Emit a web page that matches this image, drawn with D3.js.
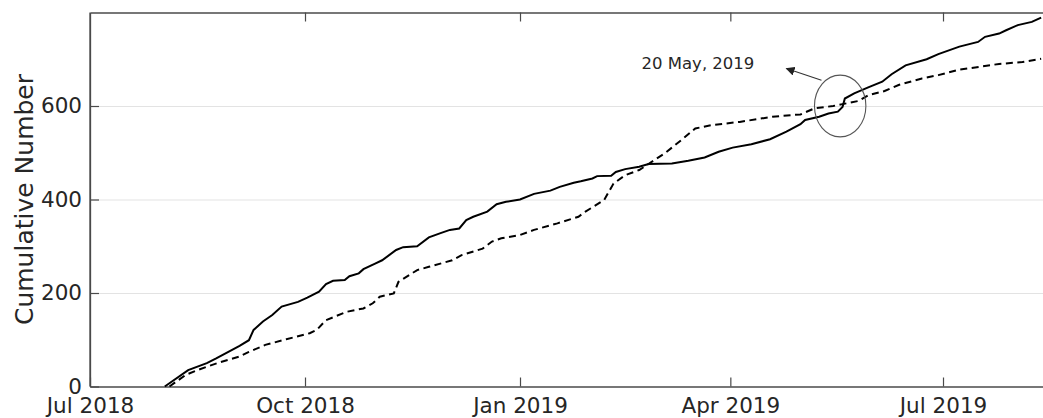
<!DOCTYPE html>
<html>
<head>
<meta charset="utf-8">
<script src="https://cdn.jsdelivr.net/npm/d3@7"></script>
<style>
  body { margin: 0; background: #fff; }
  text { font-family: "DejaVu Sans", sans-serif; fill: #262626; }
</style>
</head>
<body>
<div id="graphic"></div>
<script>
// x axis ticks and labels
var xTickDates = ["2018-07-01", "2018-10-01", "2019-01-01", "2019-04-01", "2019-07-01"];
var xTickLabels = ["Jul 2018", "Oct 2018", "Jan 2019", "Apr 2019", "Jul 2019"];
var yTickValues = [0, 200, 400, 600];

// solid series
var solidDates = ["2018-08-02","2018-08-12","2018-08-20","2018-08-24","2018-08-28","2018-09-03","2018-09-07","2018-09-09",
  "2018-09-13","2018-09-17","2018-09-21","2018-09-28","2018-10-02","2018-10-07","2018-10-10","2018-10-13","2018-10-18",
  "2018-10-20","2018-10-24","2018-10-26","2018-10-31","2018-11-03","2018-11-09","2018-11-12","2018-11-18","2018-11-23",
  "2018-11-28","2018-12-02","2018-12-06","2018-12-09","2018-12-12","2018-12-18","2018-12-22","2018-12-26","2019-01-01",
  "2019-01-07","2019-01-14","2019-01-18","2019-01-24","2019-01-27","2019-02-01","2019-02-03","2019-02-09","2019-02-11",
  "2019-02-15","2019-02-21","2019-02-25","2019-03-07","2019-03-14","2019-03-21","2019-03-27","2019-04-02","2019-04-10",
  "2019-04-18","2019-04-25","2019-05-01","2019-05-03","2019-05-09","2019-05-13","2019-05-17","2019-05-19","2019-05-20",
  "2019-05-24","2019-05-30","2019-06-05","2019-06-09","2019-06-15","2019-06-24","2019-06-29","2019-07-08","2019-07-16",
  "2019-07-19","2019-07-25","2019-07-28","2019-08-02","2019-08-08","2019-08-12"];
var solidValues = [0,35,50,60,71,87,99,121,
  139,153,171,181,190,203,219,226,228,
  236,242,251,263,270,292,298,300,319,
  328,335,338,356,363,374,390,395,400,
  412,419,427,436,439,445,450,451,459,
  465,470,476,477,483,490,502,511,518,
  529,545,561,570,577,584,588,598,616,
  627,640,652,668,687,700,711,727,737,
  748,755,762,773,780,789];

// dashed series
var dashedDates = ["2018-08-04","2018-08-11","2018-08-17","2018-08-25","2018-09-03","2018-09-07","2018-09-14","2018-09-23",
  "2018-10-03","2018-10-06","2018-10-10","2018-10-19","2018-10-26","2018-10-30","2018-11-02","2018-11-08","2018-11-10",
  "2018-11-18","2018-11-23","2018-12-03","2018-12-07","2018-12-16","2018-12-20","2018-12-24","2019-01-01","2019-01-07",
  "2019-01-17","2019-01-26","2019-01-29","2019-02-06","2019-02-10","2019-02-15","2019-02-21","2019-03-04","2019-03-11",
  "2019-03-17","2019-03-24","2019-04-05","2019-04-19","2019-05-01","2019-05-07","2019-05-15","2019-05-19","2019-05-26",
  "2019-05-30","2019-06-06","2019-06-12","2019-06-22","2019-06-29","2019-07-08","2019-07-17","2019-07-25","2019-08-04",
  "2019-08-12"];
var dashedValues = [0,25,37,51,64,74,89,101,
  114,121,142,160,167,178,192,199,224,
  249,256,270,281,295,310,317,324,335,
  349,363,374,399,434,452,463,499,527,
  552,559,566,577,582,595,600,604,611,
  623,632,645,659,666,678,684,690,694,
  701];

// annotation
var noteText = "20 May, 2019";
var noteDate = "2019-02-22", noteValue = 679;
var arrowFrom = {date: "2019-05-10", value: 655};
var arrowTo = {date: "2019-04-25", value: 680};
var circleDate = "2019-05-18", circleValue = 600, circleDays = 11.2, circleUnits = 66;

var parse = d3.timeParse("%Y-%m-%d");

var W = 1043, H = 418;
var margin = {top: 12.5, right: 0, bottom: 31.5, left: 90};
var plotBottom = H - margin.bottom;

var svg = d3.select("#graphic").append("svg")
  .attr("width", W)
  .attr("height", H);

// about 2.337 px per day, right frame falls just off the canvas
var x = d3.scaleTime()
  .domain([parse("2018-07-01"), parse("2019-08-14")])
  .range([margin.left, margin.left + 409 * 2.337]);

var y = d3.scaleLinear()
  .domain([0, 800])
  .range([plotBottom, margin.top]);

var xRight = x.range()[1];

// grid lines
svg.append("g")
  .attr("transform", "translate(" + margin.left + ",0)")
  .call(d3.axisLeft(y).tickValues(yTickValues.slice(1)).tickSize(-(xRight - margin.left)).tickFormat(""))
  .call(function(g) {
    g.select(".domain").remove();
    g.selectAll("line").attr("stroke", "#e3e3e3").attr("stroke-width", 1.2);
  });

var tickDates = xTickDates.map(parse);

// bottom axis
svg.append("g")
  .attr("transform", "translate(0," + plotBottom + ")")
  .call(d3.axisBottom(x).tickValues(tickDates).tickSizeInner(-9).tickSizeOuter(0).tickPadding(11)
    .tickFormat(function(d, i) { return xTickLabels[i]; }))
  .call(styleAxis);

// top axis (ticks only)
svg.append("g")
  .attr("transform", "translate(0," + margin.top + ")")
  .call(d3.axisTop(x).tickValues(tickDates.slice(1)).tickSizeInner(-9).tickSizeOuter(0).tickFormat(""))
  .call(styleAxis);

// left axis
svg.append("g")
  .attr("transform", "translate(" + margin.left + ",0)")
  .call(d3.axisLeft(y).tickValues(yTickValues).tickSizeInner(-9).tickSizeOuter(0).tickPadding(8))
  .call(styleAxis);

// frame top and left continuation
svg.append("line")
  .attr("x1", margin.left).attr("x2", margin.left)
  .attr("y1", margin.top).attr("y2", plotBottom)
  .attr("stroke", "#4a4a4a").attr("stroke-width", 1.3);

function styleAxis(g) {
  g.select(".domain").attr("stroke", "#4a4a4a").attr("stroke-width", 1.3);
  g.selectAll(".tick line").attr("stroke", "#4a4a4a").attr("stroke-width", 1.2);
  g.selectAll(".tick text")
    .attr("font-family", "DejaVu Sans, sans-serif")
    .attr("font-size", 21.5)
    .attr("fill", "#262626");
}

// y label
svg.append("text")
  .attr("transform", "translate(33," + ((margin.top + plotBottom) / 2) + ") rotate(-90)")
  .attr("text-anchor", "middle")
  .attr("font-size", 25)
  .text("Cumulative Number");

var line = d3.line()
  .x(function(d) { return x(d.date); })
  .y(function(d) { return y(d.value); });

var solidData = solidDates.map(function(d, i) { return {date: parse(d), value: solidValues[i]}; });
var dashedData = dashedDates.map(function(d, i) { return {date: parse(d), value: dashedValues[i]}; });

svg.append("path")
  .datum(dashedData)
  .attr("fill", "none")
  .attr("stroke", "#000")
  .attr("stroke-width", 2)
  .attr("stroke-dasharray", "7,4.5")
  .attr("d", line);

svg.append("path")
  .datum(solidData)
  .attr("fill", "none")
  .attr("stroke", "#000")
  .attr("stroke-width", 2)
  .attr("d", line);

// annotation ellipse
var cd = parse(circleDate);
svg.append("ellipse")
  .attr("cx", x(cd))
  .attr("cy", y(circleValue))
  .attr("rx", x(d3.timeDay.offset(cd, circleDays)) - x(cd))
  .attr("ry", y(0) - y(circleUnits))
  .attr("fill", "none")
  .attr("stroke", "#555")
  .attr("stroke-width", 1.1);

svg.append("defs").append("marker")
  .attr("id", "arrowhead")
  .attr("viewBox", "0 0 10 10")
  .attr("refX", 9).attr("refY", 5)
  .attr("markerWidth", 9).attr("markerHeight", 9)
  .attr("markerUnits", "userSpaceOnUse")
  .attr("orient", "auto")
  .append("path")
  .attr("d", "M0,0L10,5L0,10Z")
  .attr("fill", "#222");

svg.append("line")
  .attr("x1", x(parse(arrowFrom.date))).attr("y1", y(arrowFrom.value))
  .attr("x2", x(parse(arrowTo.date))).attr("y2", y(arrowTo.value))
  .attr("stroke", "#333")
  .attr("stroke-width", 1.1)
  .attr("marker-end", "url(#arrowhead)");

svg.append("text")
  .attr("x", x(parse(noteDate)))
  .attr("y", y(noteValue))
  .attr("font-size", 16.5)
  .text(noteText);
</script>
</body>
</html>
